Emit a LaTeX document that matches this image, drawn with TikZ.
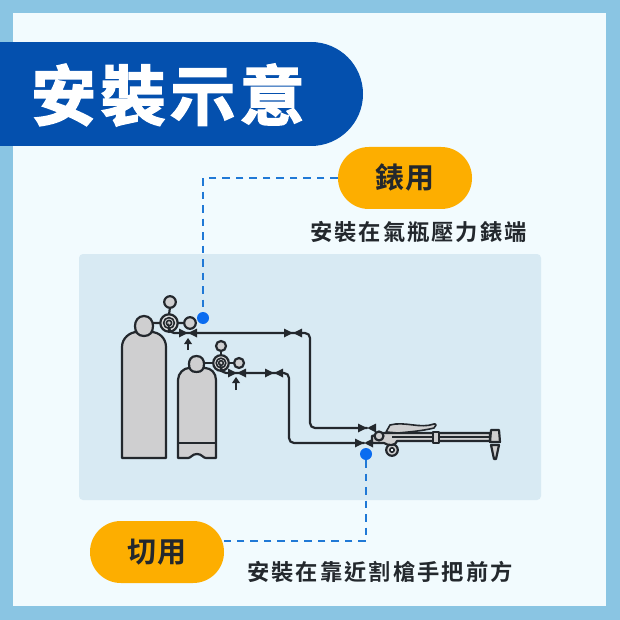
\documentclass[tikz,border=0pt]{standalone}
\usepackage{fontspec}
\usetikzlibrary{calc}
\newfontfamily\cjkb[LetterSpace=9]{Noto Sans CJK TC Bold}
\newfontfamily\cjkt[LetterSpace=7,FakeBold=2.4]{Noto Sans CJK TC Bold}
\newfontfamily\cjkp[LetterSpace=6]{Noto Sans CJK TC Bold}
\definecolor{frameblue}{HTML}{8AC5E3}
\definecolor{innerbg}{HTML}{F2FBFE}
\definecolor{panelbg}{HTML}{D8EAF3}
\definecolor{bandblue}{HTML}{0450AE}
\definecolor{pillorange}{HTML}{FDAE00}
\definecolor{dotblue}{HTML}{0A6CF0}
\definecolor{leadblue}{HTML}{2079D6}
\definecolor{ink}{HTML}{23282D}
\definecolor{steel}{HTML}{CFCFD0}
\tikzset{
  x=1pt,y=-1pt,
  pill/.style={fill=pillorange,draw=none,rounded corners=30.9pt,minimum width=134pt,minimum height=62pt,inner sep=0pt,font=\cjkp\fontsize{29}{29}\selectfont,text=ink},
  caption/.style={inner sep=0pt,font=\cjkb\fontsize{22.3}{24}\selectfont,text=ink},
  leader/.style={draw=leadblue,line width=2.3pt,dash pattern=on 7.5pt off 6pt},
  bluedot/.style={circle,fill=dotblue,minimum size=12pt,inner sep=0pt,draw=none},
  pipe/.style={draw=ink,line width=2.2pt,line cap=round,rounded corners=5pt},
  part/.style={draw=ink,line width=2.2pt,fill=steel,line join=round},
  thin part/.style={draw=ink,line width=1.6pt,fill=steel,line join=round},
}
\newcommand{\valveat}[2]{%
  \fill[ink] (#1-0.3,#2) -- (#1-9,#2-4.5) -- (#1-9,#2+4.5) -- cycle;
  \fill[ink] (#1+0.3,#2) -- (#1+9,#2-4.5) -- (#1+9,#2+4.5) -- cycle;}
\newcommand{\regulatorat}[3]{%
  \draw[part,fill=steel!70!white] (#1,#2) circle (#3);
  \draw[thin part,fill=steel!70!white] (#1,#2) circle ({#3*0.62});
  \draw[thin part,fill=steel] (#1,#2) circle ({#3*0.3});}
\begin{document}
\begin{tikzpicture}
\useasboundingbox (0,0) rectangle (620,620);
\fill[frameblue] (0,0) rectangle (620,620);
\fill[innerbg] (13,13) rectangle (606,606);
\fill[bandblue] (0,42) rectangle (311,146);
\fill[bandblue] (311,94) circle (52);
\node[inner sep=0pt,text=white,font=\cjkt\fontsize{65}{65}\selectfont] (title) at (168,95) {安裝示意};
\fill[panelbg,rounded corners=4pt] (79,254) rectangle (541,500);

% cylinders
\draw[part] (122,458) -- (122,347) .. controls (122,338) and (130,332) .. (137,332) -- (151,332) .. controls (159,332) and (166,338) .. (166,347) -- (166,458) -- cycle;
\draw[part] (144,316) .. controls (138,316) and (135,321) .. (135,326) .. controls (135,332) and (138,336) .. (144,336) .. controls (150,336) and (153,332) .. (153,326) .. controls (153,321) and (150,316) .. (144,316) -- cycle;
\draw[part] (178,458) -- (178,380) .. controls (178,373) and (184,368) .. (189,368) -- (205,368) .. controls (211,368) and (216,373) .. (216,380) -- (216,458) -- (206,458) .. controls (203,458) and (202,454) .. (197,454) .. controls (192,454) and (191,458) .. (188,458) -- cycle;
\draw[draw=ink,line width=2.2pt] (178,443) -- (216,443);
\draw[part] (196.5,356) .. controls (191,356) and (189,360) .. (189,364) .. controls (189,369) and (191,372) .. (196.5,372) .. controls (202,372) and (204,369) .. (204,364) .. controls (204,360) and (202,356) .. (196.5,356) -- cycle;

% regulator 1
\draw[draw=ink,line width=2.2pt] (153,323) -- (161,323) (169,315) -- (170,307) (177,323) -- (185,323);
\draw[part] (170,302) circle (5.8);
\draw[part] (190,323) circle (5.8);
\regulatorat{169}{323}{8.7}
% regulator 2
\draw[draw=ink,line width=2.2pt] (204,363) -- (214,363) (221,356) -- (221,351) (228,363) -- (234,363);
\draw[part] (221,346) circle (5);
\draw[part] (239,363) circle (5);
\regulatorat{221}{363}{7.8}

% pipes
\draw[pipe] (169,332) -- (169,333) -- (310,333) -- (310,428) -- (367,428);
\draw[pipe] (221,371) -- (221,373) -- (289,373) -- (289,443) -- (364,443);
\valveat{188}{333}
\valveat{293}{333}
\valveat{237}{373}
\valveat{274}{373}
\valveat{367}{428}
\valveat{364}{443}
% up arrows
\draw[draw=ink,line width=2.2pt] (188,350) -- (188,342);
\fill[ink] (188,338) -- (184,344) -- (192,344) -- cycle;
\draw[draw=ink,line width=2.2pt] (236,390) -- (236,382);
\fill[ink] (236,377) -- (232,383) -- (240,383) -- cycle;

% torch
\draw[part] (392,450) circle (5.8);
\draw[draw=ink,fill=innerbg,line width=1.6pt] (392,450) circle (2.2);
\draw[part] (372,436) -- (384,433) -- (490,433) -- (490,441) -- (397,441) .. controls (396,446) and (388,446) .. (384,443) -- (372,443) -- cycle;
\draw[draw=ink,line width=1.6pt] (392,437) -- (490,437);
\draw[part] (379,436) circle (4.5);
\draw[thin part] (386,432) -- (390,425) .. controls (405,421) and (420,429) .. (434,424) .. controls (437,423) and (436,427) .. (434,428) .. controls (422,431) and (408,432) .. (398,433) -- cycle;
\draw[thin part] (433,432) rectangle (439,443);
\draw[part] (491,430) -- (499,430) -- (500,442) -- (490,442) -- cycle;
\draw[part] (491,445) -- (499,445) -- (496,459) -- (494,459) -- cycle;

% pills and labels
\node[pill] (gauge) at (405,178) {錶用};
\node[pill] (torch) at (157,552) {切用};
\node[caption] (gaugecap) at (418.5,232) {安裝在氣瓶壓力錶端};
\node[caption] (torchcap) at (380,572) {安裝在靠近割槍手把前方};
\node[bluedot] (dotA) at (203,318) {};
\node[bluedot] (dotB) at (366,454) {};
\draw[leader] (gauge.west) -| (dotA.north);
\draw[leader] (dotB.south) |- (torch.east |- 0,541);
\end{tikzpicture}
\end{document}
